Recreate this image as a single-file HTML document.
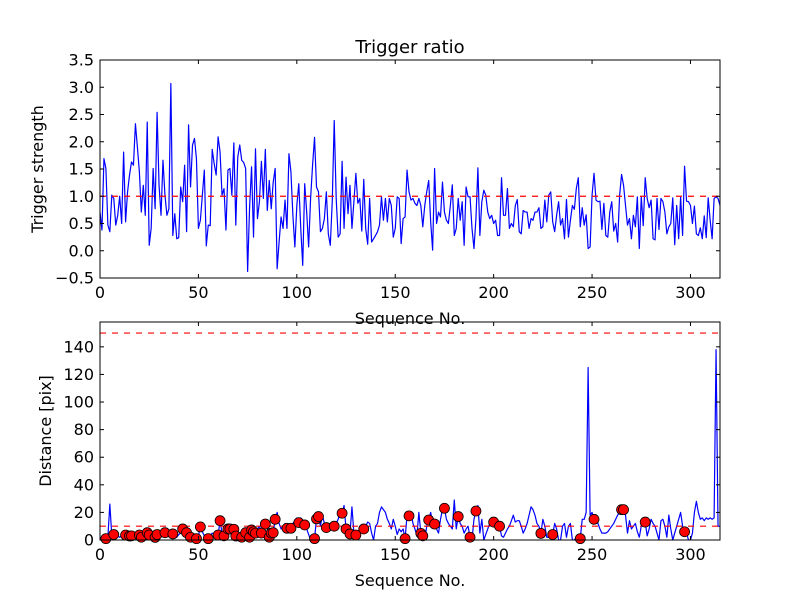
<!DOCTYPE html>
<html><head><meta charset="utf-8"><style>
body{margin:0;background:#fff;}
svg{display:block;font-family:"DejaVu Sans","Liberation Sans",sans-serif;}
</style></head><body>
<svg id="chart" width="800" height="600" viewBox="0 0 800 600" xmlns="http://www.w3.org/2000/svg">
<rect x="0" y="0" width="800" height="600" fill="#fff"/>
</svg>
<script>
const triggerStrength = [
0.71,0.38,1.69,1.51,0.47,0.35,1.02,0.96,0.47,0.65,1.0,
0.5,1.81,0.53,1.08,1.39,1.63,1.57,2.33,1.9,1.45,0.71,
1.2,0.65,2.36,0.1,0.41,1.51,0.77,2.54,1.2,0.65,1.66,
1.02,0.65,0.77,3.07,0.28,0.68,0.22,0.24,1.17,0.9,
1.57,0.35,2.31,1.17,1.94,2.06,1.69,0.41,0.56,1.02,
1.48,0.09,0.47,0.46,1.86,1.6,1.39,2.09,1.81,1.02,1.14,
0.38,1.48,1.51,1.02,1.98,0.47,1.72,1.94,1.66,1.62,
1.51,-0.38,0.8,1.54,0.25,
1.87,0.59,0.9,1.64,0.96,1.86,0.74,1.29,0.77,1.26,1.51,-0.33,0.16,0.62,0.41,0.93,0.41,1.78,1.45,0.65,
0.07,0.83,1.23,0.41,-0.27,1.23,0.71,0.07,0.96,1.57,2.08,1.17,1.08,0.35,0.41,0.59,1.08,0.31,0.1,0.9,
2.39,0.96,0.25,0.31,1.64,0.41,1.35,0.68,1.2,0.41,0.9,1.42,0.87,0.96,0.36,1.31,0.41,0.12,0.96,0.16,
0.22,0.28,0.35,0.47,0.99,0.56,0.96,0.53,0.96,0.83,0.25,0.41,0.99,0.96,0.13,0.59,0.62,1.48,1.08,
0.93,0.96,0.87,0.83,0.96,0.83,0.44,0.83,1.08,1.29,0.53,0.01,1.51,0.5,0.71,0.62,1.26,0.71,0.56,0.5,
0.83,1.21,0.28,0.41,0.96,0.56,0.9,0.1,1.17,0.99,0.99,0.41,0.04,0.59,1.52,0.28,0.9,1.11,1.02,0.71,
0.59,0.65,0.5,0.56,0.28,0.28,1.34,0.65,0.65,1.14,0.41,0.5,0.44,0.83,0.94,0.35,0.31,0.74,0.71,0.71,
0.41,0.59,0.56,0.71,0.71,0.79,0.41,0.44,0.93,0.53,1.02,1.08,0.53,0.35,0.65,0.9,0.47,0.59,0.22,
0.94,0.25,0.56,0.83,0.76,1.14,1.34,0.44,0.79,0.47,0.66,0.04,0.07,1.02,1.42,0.93,0.9,0.91,0.39,0.87,
0.28,0.25,0.71,0.9,0.36,0.5,0.16,1.02,1.4,1.2,0.83,0.47,0.59,0.22,0.65,0.44,0.99,0.04,0.99,0.46,
1.34,0.96,0.79,0.93,0.22,0.2,0.96,0.39,0.96,0.9,0.71,0.31,0.44,0.5,0.97,0.11,0.83,0.22,0.99,0.28,
1.55,0.91,0.9,0.83,0.5,0.82,0.31,0.28,0.42,0.22,0.64,0.24,0.97,0.56,0.22,0.96,0.99,0.96,0.83];
const distance = [
2,1,3,1,2,26,3,4,2,3,
2,3,4,3.6,3,2.9,3,4,2,3,
3.6,2,3,3,5.3,3.6,2,3,1.9,4,
2,3,4,5.3,3,4,3,4.4,3,2,
4,5,8,4,5.3,3,2,4,3,1,
3,9.5,6,3,4,1,3,5,4,3,
3.6,14,5,3,9.5,8,8,7,7.8,2.9,
4,3,2,5,5.3,3,2,7.3,6,5,
8,10,5,12,11.6,8,2,5,5.3,15,
20,12,8,10,12,8.5,10,8.5,12,14,
16,12.6,16,12,10.9,8,4,0,1,1,
15.3,17,10,18,12,9,10,12,10,10,
12,15,20,19.4,25,8,5,4.4,24,5,
3.6,2,8,10,8,10,13,12,5,0,
10,12,20,24,22,20,15,12,8,15,
10,4,8,6,8,1,18,17.5,20,12,
8,3,20,4.8,3,0,10,14.5,20,12,
11.6,8,5,15,22,23,15,12,10,8,
29,8,17,12,10,5,8,10,2,0,
15,21,25,5,15,0,4,8,12,15,
13,16,12,10,3,2,5,8,10,14,
18,13,14,14,10,5,8,12,18,24,
22,18,12,10,4.8,15,10,2,2,5,
4,12,8,0,0,10,12,2,10,12,
0,0,2,1,1,15,15,20,125,18,
20,15,15,12,8,5,5,5,6,8,
10,12,15,18,20,22,22,18,5,14,
8,10,12,6,2,10,12,13,3,8,
15,12,10,5,0,14,15,10,2,18,
8,0,5,10,15,20,10,6,5,0,
0,5,20,28,20,15,16,14,16,15,
16,15,16,138,10,10];
const markerIdx = [3,7,13,15,16,20,21,24,25,28,29,33,37,42,44,46,49,51,55,60,61,63,65,66,68,69,72,74,76,77,78,79,82,84,86,87,88,89,95,97,101,104,109,110,111,115,119,123,125,127,130,134,155,157,163,164,167,170,175,182,188,191,200,203,224,230,244,251,265,266,277,297];
const xTicks = [0,50,100,150,200,250,300];
const topYTicks = [-0.5,0,0.5,1,1.5,2,2.5,3,3.5];
const botYTicks = [0,20,40,60,80,100,120,140];
const topThreshold = [1.0];
const botThresholds = [10,150];

const NS="http://www.w3.org/2000/svg";
const svg=document.getElementById('chart');
function mk(tag,attrs,parent){const e=document.createElementNS(NS,tag);for(const k in attrs)e.setAttribute(k,attrs[k]);(parent||svg).appendChild(e);return e;}
const L=100,R=720,XMAX=315;
const xs=v=>L+(R-L)*v/XMAX;
const axTop={t:60,b:278,min:-0.5,max:3.5};
const axBot={t:322,b:540,min:0,max:158};
const ysT=v=>axTop.b-(axTop.b-axTop.t)*(v-axTop.min)/(axTop.max-axTop.min);
const ysB=v=>axBot.b-(axBot.b-axBot.t)*(v-axBot.min)/(axBot.max-axBot.min);

function axes(ax,ys,yt,yfmt,ylabel,nm){
  const g=mk('g',{});
  
  
  xTicks.forEach(v=>{
    const x=xs(v);
    mk('line',{x1:x,x2:x,y1:ax.b,y2:ax.b-4,stroke:'#000','stroke-width':1},g);
    mk('line',{x1:x,x2:x,y1:ax.t,y2:ax.t+4,stroke:'#000','stroke-width':1},g);
    const t=mk('text',{x:x,y:ax.b+20,'text-anchor':'middle','font-size':16},g);
    t.textContent=v;
    
    
  });
  yt.forEach(v=>{
    const y=ys(v);
    mk('line',{x1:L,x2:L+4,y1:y,y2:y,stroke:'#000','stroke-width':1},g);
    mk('line',{x1:R,x2:R-4,y1:y,y2:y,stroke:'#000','stroke-width':1},g);
    const t=mk('text',{x:L-6,y:y+5.5,'text-anchor':'end','font-size':16},g);
    t.textContent=yfmt(v);
    
    
  });
  const xl=mk('text',{x:(L+R)/2,y:ax.b+46,'text-anchor':'middle','font-size':16},g);
  xl.textContent='Sequence No.';
  
  
  const cy=(ax.t+ax.b)/2;
  const yl=mk('text',{x:0,y:0,'text-anchor':'middle','font-size':16,transform:`translate(${nm==='top'?43:51},${cy}) rotate(-90)`},g);
  yl.textContent=ylabel;
  
  
}

function series(vals,ys,nm,ax){
  const clip=mk('clipPath',{id:'clip-'+nm});
  mk('rect',{x:L,y:ax.t,width:R-L,height:ax.b-ax.t},clip);
  const d=vals.map((v,i)=>(i?'L':'M')+xs(i).toFixed(2)+','+ys(v).toFixed(2)).join('');
  const p=mk('path',{d:d,fill:'none',stroke:'#0000ff','stroke-width':1.2,'stroke-linejoin':'round','clip-path':`url(#clip-${nm})`});
  
  
}
function threshold(v,ys,nm){
  const l=mk('line',{x1:L,x2:R,y1:ys(v),y2:ys(v),stroke:'#ff0000','stroke-width':1.2,'stroke-dasharray':'6,6'});
  
  
}

const title=mk('text',{x:410,y:53,'text-anchor':'middle','font-size':18});
title.textContent='Trigger ratio';



series(triggerStrength,ysT,'trigger',axTop);
topThreshold.forEach(v=>threshold(v,ysT,'trigger-threshold-line'));
axes(axTop,ysT,topYTicks,v=>v.toFixed(1).replace('-','\u2212'),'Trigger strength','top');
const f1=mk('rect',{x:L,y:axTop.t,width:R-L,height:axTop.b-axTop.t,fill:'none',stroke:'#000','stroke-width':1});



series(distance,ysB,'distance',axBot);
botThresholds.forEach(v=>threshold(v,ysB,'distance-threshold-line'));
markerIdx.forEach(i=>{
  const c=mk('circle',{cx:xs(i),cy:ysB(distance[i]),r:5,fill:'#ff0000',stroke:'#000','stroke-width':0.8});
  
  
});
axes(axBot,ysB,botYTicks,v=>String(v),'Distance [pix]','bottom');
const f2=mk('rect',{x:L,y:axBot.t,width:R-L,height:axBot.b-axBot.t,fill:'none',stroke:'#000','stroke-width':1});


</script>
</body></html>
